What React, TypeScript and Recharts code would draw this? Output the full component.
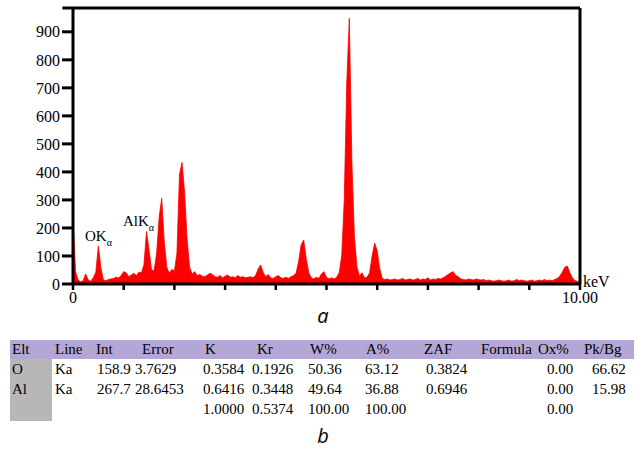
import React from 'react';
import { AreaChart, Area, XAxis, YAxis, ReferenceLine } from 'recharts';

// EDS spectrum, one count value per 0.05 keV channel from 0.00 to 10.00 keV
const CHANNEL_KEV = 0.05;
const COUNTS = [
  243, 45, 14, 8, 12, 36, 14, 10, 22, 42,
  136, 58, 14, 12, 16, 18, 20, 24, 22, 30,
  44, 40, 26, 32, 38, 30, 42, 40, 70, 187,
  120, 50, 48, 110, 240, 306, 150, 60, 38, 52,
  46, 110, 390, 434, 330, 160, 60, 36, 44, 30,
  34, 28, 26, 32, 38, 34, 26, 24, 30, 22,
  28, 32, 24, 26, 22, 30, 24, 26, 22, 24,
  26, 22, 30, 52, 68, 42, 26, 34, 22, 20,
  26, 30, 22, 20, 24, 20, 26, 30, 38, 80,
  140, 157, 90, 40, 22, 18, 24, 20, 36, 44,
  24, 18, 22, 18, 24, 40, 100, 300, 720, 948,
  440, 170, 62, 28, 40, 22, 24, 40, 100, 146,
  118, 54, 20, 16, 18, 14, 16, 18, 14, 16,
  20, 14, 16, 18, 14, 16, 20, 14, 18, 16,
  22, 14, 18, 16, 20, 18, 22, 28, 34, 40,
  44, 30, 26, 18, 16, 14, 18, 16, 14, 18,
  16, 14, 16, 12, 14, 12, 10, 12, 14, 12,
  10, 12, 14, 10, 12, 16, 12, 14, 12, 10,
  12, 14, 10, 12, 14, 12, 16, 12, 14, 12,
  16, 20, 28, 42, 60, 64, 40, 22, 12, 10,
  8,
];

const X_TICKS = [0, 1, 2, 3, 4, 5, 6, 7, 8, 9, 10];
const Y_TICKS = [0, 100, 200, 300, 400, 500, 600, 700, 800, 900];
const Y_MAX = 985;

// quantification table
const TABLE_HEADERS = ['Elt', 'Line', 'Int', 'Error', 'K', 'Kr', 'W%', 'A%', 'ZAF', 'Formula', 'Ox%', 'Pk/Bg'];
const TABLE_ROWS = [
  ['O', 'Ka', '158.9', '3.7629', '0.3584', '0.1926', '50.36', '63.12', '0.3824', '', '0.00', '66.62'],
  ['Al', 'Ka', '267.7', '28.6453', '0.6416', '0.3448', '49.64', '36.88', '0.6946', '', '0.00', '15.98'],
  ['', '', '', '', '1.0000', '0.5374', '100.00', '100.00', '', '', '0.00', ''],
];

const HEADER_X = [12, 55, 96, 142, 205, 257, 310, 366, 424, 481, 538, 584];
const CELL_X = [12, 55, 97, 135, 203, 252, 308, 365, 426, 481, 547, 592];

const spectrum = COUNTS.map((c, i) => ({ kev: Number((i * CHANNEL_KEV).toFixed(2)), counts: c }));

const SERIF = '"Liberation Serif", "Times New Roman", serif';
const tickStyle = { fill: '#000', fontSize: 16, fontFamily: SERIF };

const formatKev = (v: number): string => (v === 0 ? '0' : v === 10 ? '10.00' : '');

const PeakLabel: React.FC<{ x: number; y: number; text: string }> = ({ x, y, text }) => (
  <div style={{ position: 'absolute', left: x, top: y, fontFamily: SERIF, fontSize: 15, lineHeight: '15px', color: '#000', whiteSpace: 'nowrap' }}>
    {text}
    <span style={{ fontSize: 10, position: 'relative', top: 5 }}>α</span>
  </div>
);

const App: React.FC = () => {
  return (
    <div style={{ position: 'absolute', left: 0, top: 0, width: 638, height: 451, background: '#fff', overflow: 'hidden' }}>
      <AreaChart width={638} height={310} data={spectrum} margin={{ top: 8, right: 58, bottom: 0, left: 0 }}>
        <XAxis
          dataKey="kev"
          type="number"
          domain={[0, 10]}
          ticks={X_TICKS}
          interval={0}
          tickFormatter={formatKev}
          tickSize={6}
          height={26}
          axisLine={{ stroke: '#000', strokeWidth: 3 }}
          tickLine={{ stroke: '#000', strokeWidth: 2.5 }}
          tick={tickStyle}
        />
        <YAxis
          type="number"
          domain={[0, Y_MAX]}
          ticks={Y_TICKS}
          interval={0}
          width={73}
          tickSize={11}
          axisLine={{ stroke: '#000', strokeWidth: 3 }}
          tickLine={{ stroke: '#000', strokeWidth: 3 }}
          tick={tickStyle}
        />
        <Area
          dataKey="counts"
          type="linear"
          stroke="#ff0000"
          strokeWidth={0.8}
          fill="#ff0000"
          fillOpacity={1}
          dot={false}
          activeDot={false}
          isAnimationActive={false}
        />
        <ReferenceLine
          segment={[{ x: -0.21, y: Y_MAX }, { x: 10, y: Y_MAX }]}
          ifOverflow="visible"
          stroke="#000"
          strokeWidth={3}
        />
        <ReferenceLine x={10} stroke="#000" strokeWidth={3} ifOverflow="visible" />
      </AreaChart>

      <PeakLabel x={85} y={229} text="OK" />
      <PeakLabel x={123} y={214} text="AlK" />
      <div style={{ position: 'absolute', left: 583, top: 274, fontFamily: SERIF, fontSize: 16, lineHeight: '16px' }}>keV</div>

      <div style={{ position: 'absolute', left: 0, width: 638, top: 304, textAlign: 'center', fontFamily: '"Open Sans", sans-serif', fontStyle: 'italic', fontSize: 20, lineHeight: '24px', paddingLeft: 4 }}>a</div>

      {/* table header band and grey element column */}
      <div style={{ position: 'absolute', left: 10, top: 340, width: 624, height: 19, background: '#b4a7d6' }} />
      <div style={{ position: 'absolute', left: 10, top: 359, width: 42, height: 62, background: '#b7b7b7' }} />
      {TABLE_HEADERS.map((h, i) => (
        <span key={`h-${i}`} style={{ position: 'absolute', left: HEADER_X[i], top: 340, fontFamily: SERIF, fontSize: 15, lineHeight: '19px', whiteSpace: 'nowrap' }}>{h}</span>
      ))}
      {TABLE_ROWS.map((row, r) =>
        row.map((cell, i) => (
          <span key={`c-${r}-${i}`} style={{ position: 'absolute', left: CELL_X[i], top: 360 + r * 20, fontFamily: SERIF, fontSize: 15, lineHeight: '19px', whiteSpace: 'nowrap' }}>{cell}</span>
        ))
      )}

      <div style={{ position: 'absolute', left: 0, width: 638, top: 424, textAlign: 'center', fontFamily: '"Open Sans", sans-serif', fontStyle: 'italic', fontSize: 20, lineHeight: '24px', paddingLeft: 4 }}>b</div>
    </div>
  );
};

export default App;
